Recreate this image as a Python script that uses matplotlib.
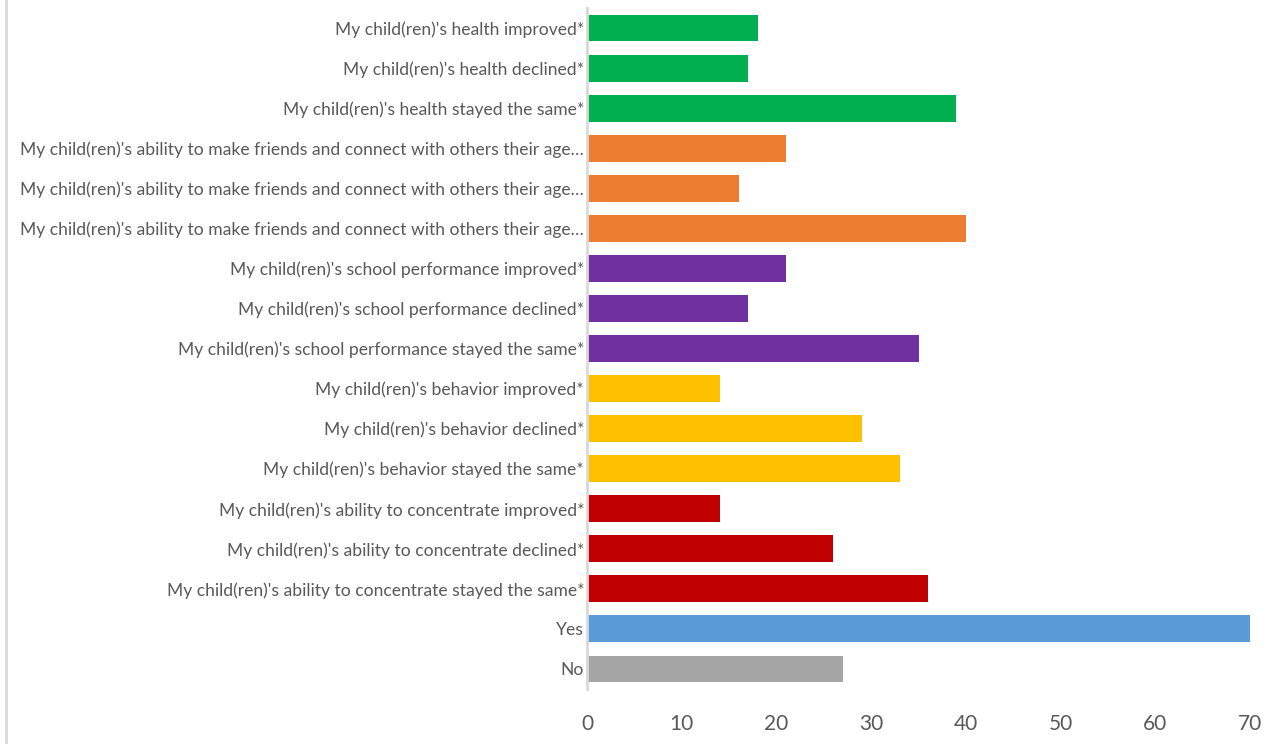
import matplotlib
matplotlib.use("Agg")
import matplotlib.pyplot as plt
from matplotlib.lines import Line2D

categories = [
    "My child(ren)'s health improved*",
    "My child(ren)'s health declined*",
    "My child(ren)'s health stayed the same*",
    "My child(ren)'s ability to make friends and connect with others their age…",
    "My child(ren)'s ability to make friends and connect with others their age…",
    "My child(ren)'s ability to make friends and connect with others their age…",
    "My child(ren)'s school performance improved*",
    "My child(ren)'s school performance declined*",
    "My child(ren)'s school performance stayed the same*",
    "My child(ren)'s behavior improved*",
    "My child(ren)'s behavior declined*",
    "My child(ren)'s behavior stayed the same*",
    "My child(ren)'s ability to concentrate improved*",
    "My child(ren)'s ability to concentrate declined*",
    "My child(ren)'s ability to concentrate stayed the same*",
    "Yes",
    "No",
]
values = [18, 17, 39, 21, 16, 40, 21, 17, 35, 14, 29, 33, 14, 26, 36, 70, 27]
colors = ["#00B050"] * 3 + ["#ED7D31"] * 3 + ["#7030A0"] * 3 + ["#FFC000"] * 3 + \
         ["#C00000"] * 3 + ["#5B9BD5", "#A5A5A5"]
xticks = [0, 10, 20, 30, 40, 50, 60, 70]

plt.rcParams['font.family'] = ['Lato', 'DejaVu Sans']

fig = plt.figure(figsize=(12.84, 7.44), dpi=100)
ax = fig.add_axes([587/1284, 1 - 689/744, (1252 - 587)/1284, (689 - 8)/744])

n = len(categories)
ypos = list(range(n))
ax.barh(ypos, values, height=0.67, color=colors, zorder=2)
ax.set_ylim(n - 0.5, -0.5)
ax.set_xlim(0, 70.2)
ax.set_yticks(ypos)
ax.set_yticklabels(categories, fontsize=12.65, color="#595959")
ax.set_xticks(xticks)
ax.set_xticklabels([str(t) for t in xticks], fontsize=15, color="#595959")
ax.tick_params(axis='both', length=0)
ax.tick_params(axis='x', pad=18)
ax.tick_params(axis='y', pad=2)
for s in ['top', 'right', 'bottom']:
    ax.spines[s].set_visible(False)
ax.spines['left'].set_color("#D9D9D9")
ax.spines['left'].set_linewidth(2)

fig.add_artist(Line2D([6/1284, 6/1284], [0, 1], color="#D9D9D9", lw=2, transform=fig.transFigure))

fig.savefig("out.png", dpi=100)
